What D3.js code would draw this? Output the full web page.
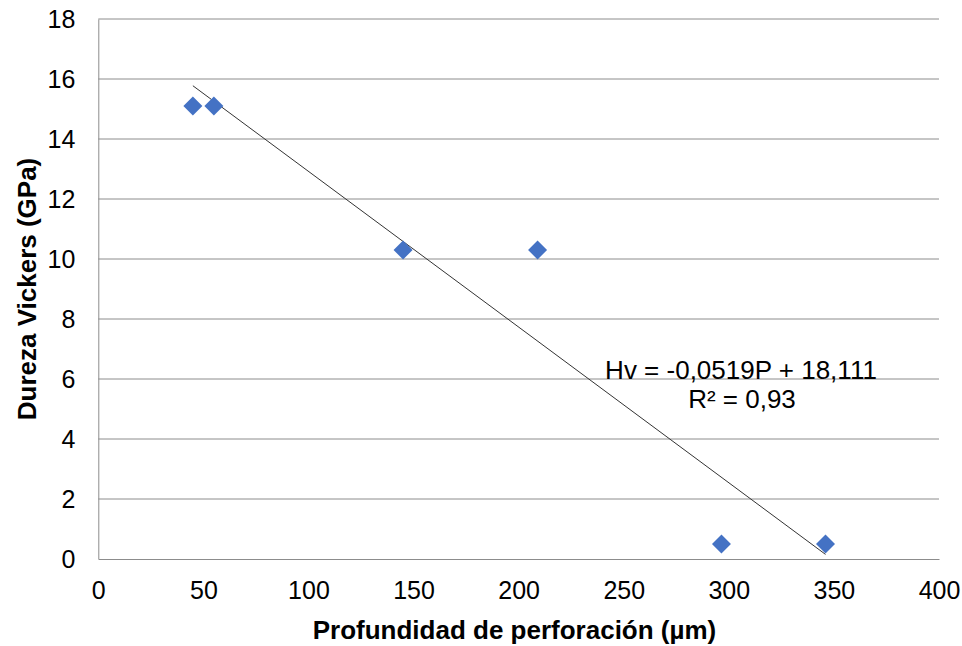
<!DOCTYPE html>
<html><head><meta charset="utf-8">
<script src="https://cdn.jsdelivr.net/npm/d3@7"></script>
<style>body{margin:0;background:#fff}svg{display:block}text{font-family:"Liberation Sans",Arial,sans-serif}</style>
</head><body>
<script>
const depth = [45, 55, 145, 209, 296.5, 346];
const hardness = [15.1, 15.1, 10.3, 10.3, 0.5, 0.5];
const xTicks = [0, 50, 100, 150, 200, 250, 300, 350, 400];
const yTicks = [0, 2, 4, 6, 8, 10, 12, 14, 16, 18];
const slope = -0.0519, intercept = 18.111;
const eqLabel = "Hv = -0,0519P + 18,111";
const r2Label = "R² = 0,93";
const xTitle = "Profundidad de perforación (µm)";
const yTitle = "Dureza Vickers (GPa)";

const W = 962, H = 646;
const svg = d3.select("body").append("svg").attr("width", W).attr("height", H);
const x = d3.scaleLinear().domain([0, 400]).range([98.3, 939]);
const y = d3.scaleLinear().domain([0, 18]).range([559, 19]);

// gridlines
svg.append("g").selectAll("line").data(yTicks.filter(d => d > 0)).join("line")
  .attr("x1", x(0)).attr("x2", x(400)).attr("y1", d => y(d)).attr("y2", d => y(d))
  .attr("stroke", "#8c8c8c").attr("stroke-width", 1);

// axes
const xAxis = svg.append("g").attr("transform", `translate(0,${y(0)})`)
  .call(d3.axisBottom(x).tickValues(xTicks).tickSize(0).tickPadding(22).tickFormat(d3.format("d")));
const yAxis = svg.append("g").attr("transform", `translate(${x(0)},0)`)
  .call(d3.axisLeft(y).tickValues(yTicks).tickSize(0).tickPadding(23).tickFormat(d3.format("d")));
[xAxis, yAxis].forEach(a => {
  a.select(".domain").attr("stroke", "#8c8c8c").attr("stroke-width", 1);
  a.selectAll("text").attr("font-size", 25).attr("fill", "#000")
    .style("font-family", '"Liberation Sans",Arial,sans-serif');
});

// trendline
const x0 = d3.min(depth), x1 = d3.max(depth);
svg.append("line")
  .attr("x1", x(x0)).attr("y1", y(slope * x0 + intercept))
  .attr("x2", x(x1)).attr("y2", y(slope * x1 + intercept))
  .attr("stroke", "#333").attr("stroke-width", 1);

// points
const pts = depth.map((d, i) => [d, hardness[i]]);
svg.append("g").selectAll("path").data(pts).join("path")
  .attr("d", d3.symbol(d3.symbolDiamond2, 230))
  .attr("transform", d => `translate(${x(d[0])},${y(d[1])})`)
  .attr("fill", "#4472C4");

// equation
svg.append("text").attr("x", 741).attr("y", 379).attr("text-anchor", "middle")
  .attr("font-size", 26).text(eqLabel);
svg.append("text").attr("x", 742).attr("y", 408).attr("text-anchor", "middle")
  .attr("font-size", 26).text(r2Label);

// titles
svg.append("text").attr("x", 514.5).attr("y", 639).attr("text-anchor", "middle")
  .attr("font-size", 26).attr("font-weight", "bold").text(xTitle);
svg.append("text").attr("transform", `translate(36,289) rotate(-90)`).attr("text-anchor", "middle")
  .attr("font-size", 26).attr("font-weight", "bold").text(yTitle);
</script>
</body></html>
